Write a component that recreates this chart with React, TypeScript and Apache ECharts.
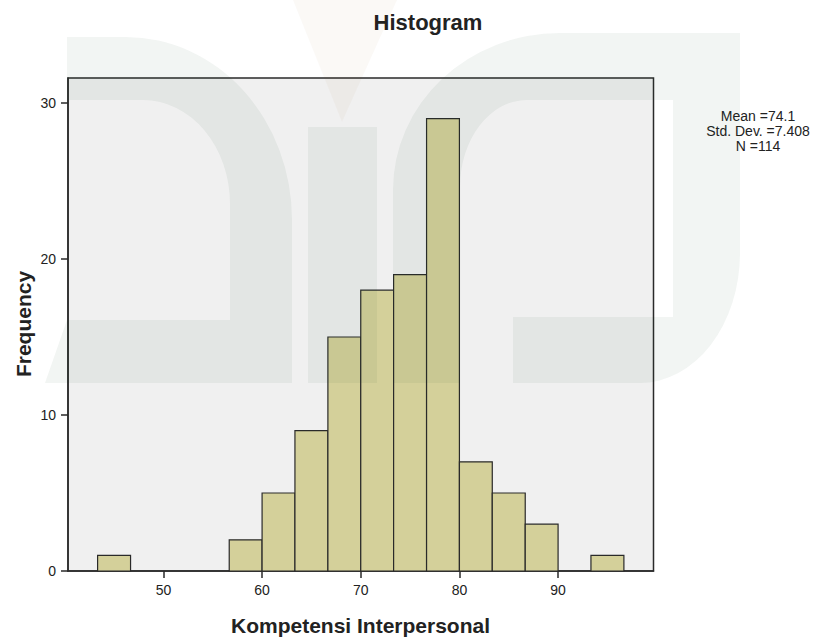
import React, { useEffect, useRef } from "react";
import * as echarts from "echarts";

// ---- data ----
const binLower = [43.33, 46.67, 50, 53.33, 56.67, 60, 63.33, 66.67, 70, 73.33, 76.67, 80, 83.33, 86.67, 90, 93.33];
const binUpper = [46.67, 50, 53.33, 56.67, 60, 63.33, 66.67, 70, 73.33, 76.67, 80, 83.33, 86.67, 90, 93.33, 96.67];
const frequencies = [1, 0, 0, 0, 2, 5, 9, 15, 18, 19, 29, 7, 5, 3, 0, 1];
const xTickValues = [50, 60, 70, 80, 90];
const yTickValues = [0, 10, 20, 30];
const statsLines = ["Mean =74.1", "Std. Dev. =7.408", "N =114"];
const chartTitle = "Histogram";
const xAxisTitle = "Kompetensi Interpersonal";
const yAxisTitle = "Frequency";

// watermark outlines (background decoration of the scanned page)
const wmLeftPath =
  "M67,37 H126 A166,183 0 0 1 292,220 V383 H45 L67,320 H230 V204 A87,104 0 0 0 143,100 H67 Z";
const wmRightPath =
  "M393,383 V190 A167,157 0 0 1 560,33 H740 V253 A100,130 0 0 1 640,383 H513 V317 H673 V100 H527 A67,87 0 0 0 460,187 V383 Z";

let registered = false;
function registerShapes() {
  if (registered) return;
  registered = true;
  echarts.graphic.registerShape("wmLeft", echarts.graphic.extendPath(wmLeftPath, {}));
  echarts.graphic.registerShape("wmRight", echarts.graphic.extendPath(wmRightPath, {}));
}

const TICK_FONT = '"Liberation Sans", Arial, sans-serif';
const BOLD_FONT = '"Liberation Sans", Arial, sans-serif';
const INK = "#222222";

export default function App() {
  const ref = useRef<HTMLDivElement>(null);

  useEffect(() => {
    document.body.style.margin = "0";
    document.body.style.overflow = "hidden";
    registerShapes();
    const chart = echarts.init(ref.current!, null, { renderer: "svg" });

    const barData = binLower.map((lo, i) => [lo, binUpper[i], frequencies[i]]);
    const wmFill = "rgba(20,70,45,0.055)";

    const statsTexts = statsLines.map((line, i) => ({
      type: "text",
      x: 758,
      y: 116 + i * 15,
      style: {
        text: line,
        fill: INK,
        font: `14px ${BOLD_FONT}`,
        textAlign: "center",
        textVerticalAlign: "middle",
      },
    }));

    chart.setOption({
      animation: false,
      backgroundColor: "#ffffff",
      grid: {
        left: 68,
        right: 162.5,
        top: 78,
        bottom: 66,
        show: true,
        backgroundColor: "#F0F0F0",
        borderColor: "#2a2a2a",
        borderWidth: 1.5,
      },
      xAxis: {
        type: "value",
        min: 40.33,
        max: 99.67,
        splitLine: { show: false },
        axisLine: { show: true, onZero: false, lineStyle: { color: "#2a2a2a", width: 1.5 } },
        axisTick: {
          show: true,
          customValues: xTickValues,
          length: 7,
          lineStyle: { color: "#2a2a2a", width: 1.5 },
        },
        axisLabel: {
          customValues: xTickValues,
          margin: 12,
          color: INK,
          fontFamily: TICK_FONT,
          fontSize: 14,
        },
      },
      yAxis: {
        type: "value",
        min: 0,
        max: 31.6,
        splitLine: { show: false },
        axisLine: { show: true, lineStyle: { color: "#2a2a2a", width: 1.5 } },
        axisTick: {
          show: true,
          customValues: yTickValues,
          length: 7,
          lineStyle: { color: "#2a2a2a", width: 1.5 },
        },
        axisLabel: {
          customValues: yTickValues,
          margin: 12,
          color: INK,
          fontFamily: TICK_FONT,
          fontSize: 14,
        },
      },
      series: [
        {
          type: "custom",
          data: barData,
          encode: { x: [0, 1], y: 2 },
          renderItem: (params: any, api: any) => {
            const count = api.value(2);
            if (!count) return null;
            const p0 = api.coord([api.value(0), count]);
            const p1 = api.coord([api.value(1), 0]);
            return {
              type: "rect",
              shape: { x: p0[0], y: p0[1], width: p1[0] - p0[0], height: p1[1] - p0[1] },
              style: { fill: "#D4D09A", stroke: "#2a2a2a", lineWidth: 1.2 },
            };
          },
        },
      ],
      graphic: [
        {
          type: "text",
          x: 428,
          y: 22,
          style: {
            text: chartTitle,
            fill: INK,
            font: `bold 22px ${BOLD_FONT}`,
            textAlign: "center",
            textVerticalAlign: "middle",
          },
        },
        {
          type: "text",
          x: 360.5,
          y: 625,
          style: {
            text: xAxisTitle,
            fill: INK,
            font: `bold 21px ${BOLD_FONT}`,
            textAlign: "center",
            textVerticalAlign: "middle",
          },
        },
        {
          type: "text",
          x: 23,
          y: 324,
          rotation: Math.PI / 2,
          style: {
            text: yAxisTitle,
            fill: INK,
            font: `bold 21px ${BOLD_FONT}`,
            textAlign: "center",
            textVerticalAlign: "middle",
          },
        },
        ...statsTexts,
        // faint watermark overlay
        { type: "wmLeft", x: 0, y: 0, z: 100, silent: true, style: { fill: wmFill } },
        { type: "wmRight", x: 0, y: 0, z: 100, silent: true, style: { fill: wmFill } },
        {
          type: "rect",
          z: 100,
          silent: true,
          shape: { x: 308, y: 127, width: 69, height: 256 },
          style: { fill: wmFill },
        },
        {
          type: "polygon",
          z: 100,
          silent: true,
          shape: { points: [[293, 0], [397, 0], [342, 122]] },
          style: { fill: "rgba(150,90,0,0.035)" },
        },
      ],
    });

    return () => chart.dispose();
  }, []);

  return <div ref={ref} style={{ width: 816, height: 637 }} />;
}
